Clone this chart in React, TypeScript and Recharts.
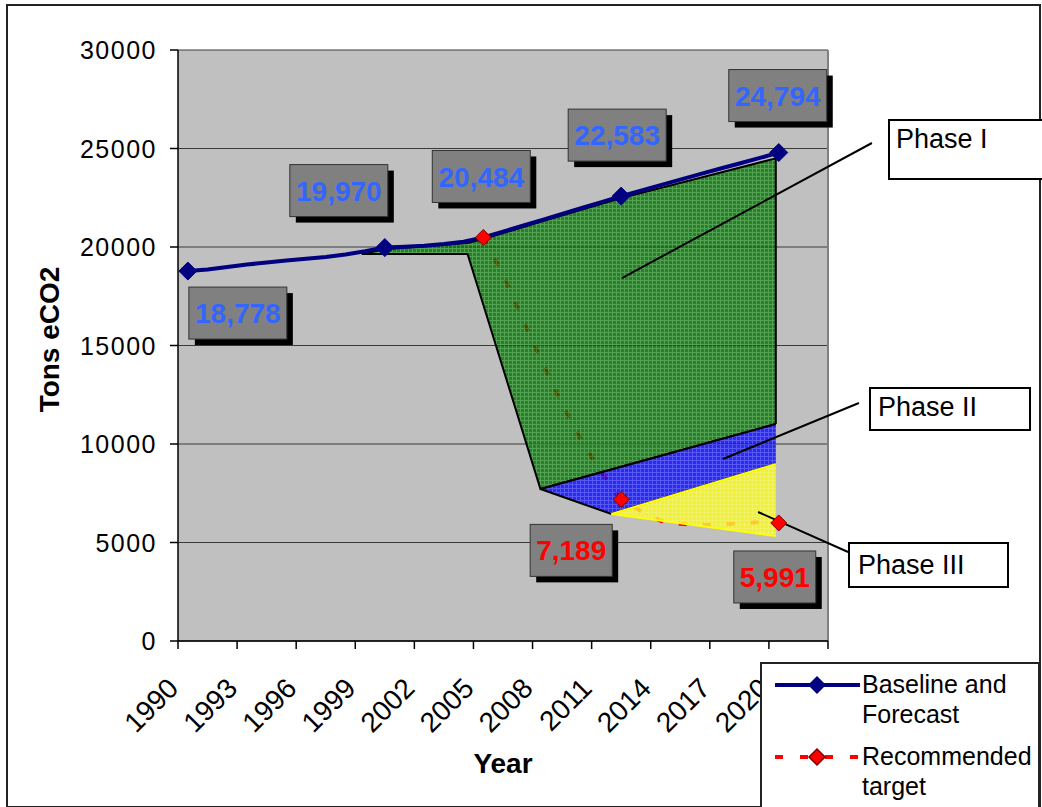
import {
  Area,
  CartesianGrid,
  ComposedChart,
  LabelList,
  Line,
  ReferenceLine,
  XAxis,
  YAxis
} from "recharts";

const FONT = '"Liberation Sans", Arial, sans-serif';

// baseline and forecast, 1990-2020
const baselineYears = [
  1990, 1991, 1992, 1993, 1994, 1995, 1996, 1997, 1998, 1999, 2000, 2001, 2002, 2003, 2004, 2005,
  2006, 2007, 2008, 2009, 2010, 2011, 2012, 2013, 2014, 2015, 2016, 2017, 2018, 2019, 2020
];
const baselineValues = [
  18778, 18860, 18990, 19110, 19210, 19310, 19400, 19490, 19620, 19780, 19970, 20010, 20060, 20150,
  20270, 20484, 20780, 21080, 21380, 21680, 21980, 22280, 22583, 22860, 23140, 23420, 23700, 23970,
  24240, 24510, 24794
];
const baselineMarked = [1990, 2000, 2012, 2020];
const baselineLabelled = [1990, 2000, 2005, 2012, 2020];

// recommended target, 2005-2020
const targetYears = [
  2005, 2006, 2007, 2008, 2009, 2010, 2011, 2012, 2013, 2014, 2015, 2016, 2017, 2018, 2019, 2020
];
const targetValues = [
  20484, 18600, 16330, 14130, 12020, 10150, 8540, 7189, 6600, 6100, 5950, 5880, 5900, 5980, 6030, 5991
];
const targetMarked = [2005, 2012, 2020];
const targetLabelled = [2012, 2020];

// phase wedges (low / high edge)
const phase1Years = [1998.83, 2000, 2004.2, 2005, 2007.9, 2012, 2019.85];
const phase1Low = [19650, 19650, 19650, 17070, 7716, 8848, 11015];
const phase1High = [19650, 19880, 20200, 20400, 21280, 22480, 24500];

const phase2Years = [2007.9, 2011.5, 2019.85];
const phase2Low = [7716, 6447, 8985];
const phase2High = [7716, 8710, 11015];

const phase3Years = [2011.5, 2019.85];
const phase3Low = [6447, 5330];
const phase3High = [6447, 8985];

const tickYears = [1990, 1993, 1996, 1999, 2002, 2005, 2008, 2011, 2014, 2017, 2020];
const valueTicks = [0, 5000, 10000, 15000, 20000, 25000, 30000];

const baselineData = baselineYears.map((year, i) => ({ year, base: baselineValues[i] }));
const targetData = targetYears.map((year, i) => ({ year, target: targetValues[i] }));
const rangeRows = (years: number[], lo: number[], hi: number[]) =>
  years.map((year, i) => ({ year, range: [lo[i], hi[i]] }));
const phase1Data = rangeRows(phase1Years, phase1Low, phase1High);
const phase2Data = rangeRows(phase2Years, phase2Low, phase2High);
const phase3Data = rangeRows(phase3Years, phase3Low, phase3High);

// label box offsets from their point (box centre)
const baselineLabelPos: Record<number, [number, number]> = {
  1990: [50, 42],
  2000: [-46, -57],
  2005: [-2, -61],
  2012: [-4, -61],
  2020: [-1, -57]
};
const targetLabelPos: Record<number, [number, number]> = {
  2012: [-50, 51],
  2020: [-4, 54]
};

// leader lines for the phase callouts, in chart units
const leaders = [
  [{ x: 2012.04, y: 18426 }, { x: 2024.73, y: 25279 }],
  [{ x: 2017.17, y: 9238 }, { x: 2024.07, y: 12081 }],
  [{ x: 2018.95, y: 6548 }, { x: 2023.52, y: 4518 }]
];

function diamondDot(years: number[], marked: number[], fill: string, stroke: string, r: number) {
  return (props: any) => {
    const { cx, cy, index } = props;
    if (!marked.includes(years[index])) return <g key={`d-${index}`} />;
    return (
      <polygon
        key={`d-${index}`}
        points={`${cx},${cy - r} ${cx + r},${cy} ${cx},${cy + r} ${cx - r},${cy}`}
        fill={fill}
        stroke={stroke}
        strokeWidth={1}
      />
    );
  };
}

function valueBox(
  years: number[],
  labelled: number[],
  pos: Record<number, [number, number]>,
  color: string,
  w: number
) {
  return (props: any) => {
    const { x, y, value, index } = props;
    const yr = years[index];
    if (!labelled.includes(yr)) return <g key={`l-${index}`} />;
    const [dx, dy] = pos[yr];
    const cx = x + dx;
    const cy = y + dy;
    return (
      <g key={`l-${index}`}>
        <rect x={cx - w / 2 + 6} y={cy - 26 + 6} width={w} height={52} fill="#000" />
        <rect x={cx - w / 2} y={cy - 26} width={w} height={52} fill="#808080" stroke="#333" strokeWidth={1} />
        <text
          x={cx}
          y={cy}
          dy="0.36em"
          textAnchor="middle"
          fill={color}
          fontSize={28}
          fontWeight="bold"
          fontFamily={FONT}
        >
          {Number(value).toLocaleString("en-US")}
        </text>
      </g>
    );
  };
}

function YearTick(props: any) {
  const { x, y, payload } = props;
  const year = payload.value + 0.5;
  if (!tickYears.includes(year)) return <g />;
  const ax = x + 2;
  const ay = y + 39;
  return (
    <text
      x={ax}
      y={ay}
      textAnchor="end"
      transform={`rotate(-45 ${ax} ${ay})`}
      fontSize={28}
      fill="#000"
      fontFamily={FONT}
    >
      {year}
    </text>
  );
}

function ValueTick(props: any) {
  const { x, y, payload } = props;
  return (
    <text x={x} y={y} dy="0.36em" textAnchor="end" fontSize={25} letterSpacing={1.5} fill="#000" fontFamily={FONT}>
      {payload.value}
    </text>
  );
}

const phaseBox = (left: number, top: number, width: number, height: number, padTop: number, padLeft: number) => ({
  position: "absolute" as const,
  left,
  top,
  width,
  height,
  boxSizing: "border-box" as const,
  border: "2px solid #000",
  background: "#fff",
  fontFamily: FONT,
  fontSize: 27,
  lineHeight: "27px",
  paddingTop: padTop,
  paddingLeft: padLeft,
  color: "#000"
});

export default function App() {
  const xTicks = [...tickYears.map((y) => y - 0.5), 2022.5];

  return (
    <div style={{ position: "absolute", left: 0, top: 0, width: 1042, height: 807, overflow: "hidden", background: "#fff" }}>
      <div
        style={{
          position: "absolute",
          left: 6,
          top: 4,
          width: 1035,
          height: 804,
          boxSizing: "border-box",
          border: "2px solid #222"
        }}
      />
      <div style={{ position: "absolute", left: 0, top: 0 }}>
        <ComposedChart
          width={1042}
          height={807}
          margin={{ top: 50, right: 214, bottom: 8, left: 8 }}
          style={{ fontFamily: FONT }}
        >
          <defs>
            <pattern id="pGreen" width="4" height="4" patternUnits="userSpaceOnUse">
              <rect width="4" height="4" fill="#006c00" />
              <rect width="4" height="1" fill="#349a34" />
              <rect width="1" height="4" fill="#349a34" />
            </pattern>
            <pattern id="pBlue" width="4" height="4" patternUnits="userSpaceOnUse">
              <rect width="4" height="4" fill="#0000ff" />
              <rect width="4" height="1" fill="#3a3aff" />
              <rect width="1" height="4" fill="#3a3aff" />
            </pattern>
            <pattern id="pYellow" width="4" height="4" patternUnits="userSpaceOnUse">
              <rect width="4" height="4" fill="#ffff00" />
              <rect width="4" height="1" fill="#ffff50" />
              <rect width="1" height="4" fill="#ffff50" />
            </pattern>
          </defs>
          <CartesianGrid vertical={false} stroke="#3a3a3a" fill="#c0c0c0" fillOpacity={1} />
          <XAxis
            type="number"
            dataKey="year"
            domain={[1989.5, 2022.5]}
            ticks={xTicks}
            interval={0}
            allowDataOverflow
            height={158}
            tickSize={8}
            axisLine={{ stroke: "#000", strokeWidth: 1.5 }}
            tickLine={{ stroke: "#000", strokeWidth: 1.5 }}
            tick={<YearTick />}
            label={(p: any) => {
              const vb = p.viewBox || { x: 178, y: 641, width: 650 };
              return (
                <text
                  x={vb.x + vb.width / 2}
                  y={vb.y + 132}
                  textAnchor="middle"
                  fontSize={28}
                  fontWeight="bold"
                  fontFamily={FONT}
                  fill="#000"
                >
                  Year
                </text>
              );
            }}
          />
          <YAxis
            type="number"
            domain={[0, 30000]}
            ticks={valueTicks}
            interval={0}
            width={170}
            tickSize={8}
            tickMargin={13}
            axisLine={{ stroke: "#000", strokeWidth: 1.5 }}
            tickLine={{ stroke: "#000", strokeWidth: 1.5 }}
            tick={<ValueTick />}
            label={(p: any) => {
              const vb = p.viewBox || { x: 8, y: 50, height: 591 };
              const lx = vb.x + 51;
              const ly = vb.y + vb.height / 2 - 6;
              return (
                <text
                  x={lx}
                  y={ly}
                  textAnchor="middle"
                  transform={`rotate(-90 ${lx} ${ly})`}
                  fontSize={28}
                  fontWeight="bold"
                  fontFamily={FONT}
                  fill="#000"
                >
                  Tons eCO2
                </text>
              );
            }}
          />
          <ReferenceLine x={2022.5} stroke="#808080" strokeWidth={2} />

          <Line
            data={targetData}
            dataKey="target"
            type="linear"
            stroke="#ff0000"
            strokeWidth={4}
            strokeDasharray="8 16"
            dot={diamondDot(targetYears, targetMarked, "#ff0000", "#800000", 8)}
            activeDot={false}
            isAnimationActive={false}
            zIndex={50}
          >
            <LabelList dataKey="target" content={valueBox(targetYears, targetLabelled, targetLabelPos, "#ff0000", 82)} />
          </Line>

          <Area
            data={phase1Data}
            dataKey="range"
            type="linear"
            fill="url(#pGreen)"
            fillOpacity={0.78}
            stroke="#000"
            strokeWidth={2}
            isAnimationActive={false}
            activeDot={false}
          />
          <Area
            data={phase2Data}
            dataKey="range"
            type="linear"
            fill="url(#pBlue)"
            fillOpacity={0.78}
            stroke="#000"
            strokeWidth={2}
            isAnimationActive={false}
            activeDot={false}
          />
          <Area
            data={phase3Data}
            dataKey="range"
            type="linear"
            fill="url(#pYellow)"
            fillOpacity={0.8}
            stroke="#ffff00"
            strokeWidth={2}
            isAnimationActive={false}
            activeDot={false}
          />
          <ReferenceLine
            segment={[
              { x: 2019.85, y: 11015 },
              { x: 2019.85, y: 24500 }
            ]}
            stroke="#000"
            strokeWidth={2}
          />

          <Line
            data={baselineData}
            dataKey="base"
            type="linear"
            stroke="#000080"
            strokeWidth={4}
            dot={diamondDot(baselineYears, baselineMarked, "#000080", "#000080", 9)}
            activeDot={false}
            isAnimationActive={false}
          >
            <LabelList dataKey="base" content={valueBox(baselineYears, baselineLabelled, baselineLabelPos, "#3366ff", 98)} />
          </Line>

          {leaders.map((seg, i) => (
            <ReferenceLine key={i} segment={seg} stroke="#000" strokeWidth={2} ifOverflow="visible" />
          ))}
        </ComposedChart>
      </div>

      <div style={phaseBox(888, 119, 160, 61, 5, 6)}>Phase I</div>
      <div style={phaseBox(869, 387, 162, 44, 5, 7)}>Phase II</div>
      <div style={phaseBox(848, 542, 161, 46, 8, 8)}>Phase III</div>

      <div
        style={{
          position: "absolute",
          left: 760,
          top: 662,
          width: 280,
          height: 160,
          boxSizing: "border-box",
          border: "2px solid #222",
          background: "#fff",
          fontFamily: FONT,
          fontSize: 25,
          lineHeight: "30px",
          color: "#000"
        }}
      >
        <svg width={90} height={120} style={{ position: "absolute", left: 10, top: 0 }}>
          <line x1={3} y1={21} x2={88} y2={21} stroke="#000080" strokeWidth={4} />
          <polygon points="45,12 54,21 45,30 36,21" fill="#000080" />
          <line x1={3} y1={93} x2={88} y2={93} stroke="#ff0000" strokeWidth={4} strokeDasharray="8 17" />
          <polygon points="45,85 53,93 45,101 37,93" fill="#ff0000" stroke="#800000" strokeWidth={1.5} />
        </svg>
        <div style={{ position: "absolute", left: 100, top: 5 }}>
          Baseline and
          <br />
          Forecast
        </div>
        <div style={{ position: "absolute", left: 100, top: 77 }}>
          Recommended
          <br />
          target
        </div>
      </div>
    </div>
  );
}
